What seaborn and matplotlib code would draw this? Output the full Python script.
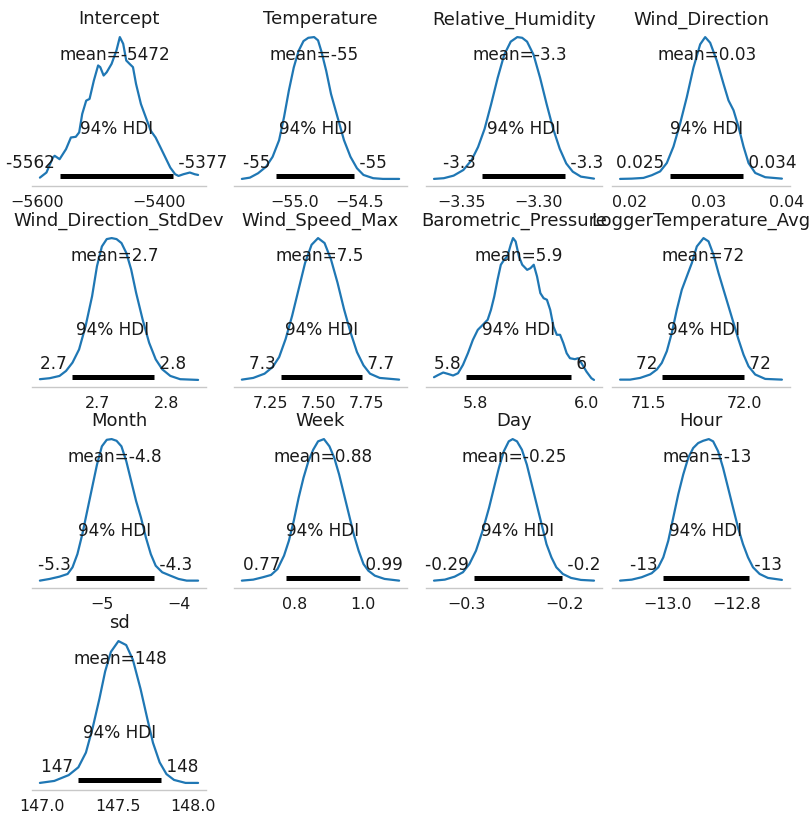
import numpy as np
import pandas as pd
import matplotlib
matplotlib.use("Agg")
import matplotlib.pyplot as plt
import seaborn as sns

# ---- posterior density curves (x, density) ----
intercept_x = [-5595.2, -5584.5, -5573.9, -5571.0, -5563.0, -5552.5, -5544.5, -5536.5, -5531.0,
               -5526.0, -5519.5, -5514.0, -5507.0, -5500.0, -5496.5, -5491.0, -5486.0, -5478.0,
               -5470.0, -5464.5, -5459.0, -5454.0, -5448.5, -5443.0, -5438.0, -5430.0, -5422.0,
               -5414.0, -5406.0, -5398.0, -5390.0, -5382.0, -5374.0, -5368.5, -5360.5, -5350.0,
               -5342.0, -5336.5]
intercept_density = [0.009, 0.045, 0.151, 0.163, 0.139, 0.210, 0.292, 0.297, 0.328, 0.458, 0.552,
                     0.564, 0.693, 0.800, 0.788, 0.729, 0.752, 0.811, 0.906, 1.000, 0.953, 0.835,
                     0.811, 0.788, 0.670, 0.528, 0.434, 0.340, 0.292, 0.222, 0.151, 0.080, 0.033,
                     0.021, 0.033, 0.045, 0.033, 0.028]

temperature_x = [-55.405, -55.343, -55.280, -55.218, -55.168, -55.118, -55.080, -55.043, -55.005,
                 -54.968, -54.930, -54.893, -54.848, -54.818, -54.793, -54.755, -54.718, -54.668,
                 -54.618, -54.568, -54.518, -54.468, -54.393, -54.318, -54.193]
temperature_density = [0.0, 0.009, 0.040, 0.086, 0.156, 0.273, 0.436, 0.622, 0.786, 0.902, 0.972,
                       0.995, 1.000, 0.977, 0.902, 0.762, 0.599, 0.436, 0.273, 0.156, 0.075, 0.028,
                       0.005, 0.0, 0.0]

humidity_x = [-3.36809, -3.36171, -3.35532, -3.34894, -3.34361, -3.33936, -3.33510, -3.33084,
              -3.32659, -3.32233, -3.31807, -3.31381, -3.31062, -3.30743, -3.30317, -3.29891,
              -3.29466, -3.29040, -3.28614, -3.28189, -3.27763, -3.27231, -3.26379]
humidity_density = [0.0, 0.005, 0.023, 0.063, 0.132, 0.225, 0.353, 0.527, 0.712, 0.875, 0.968, 1.000,
                    0.995, 0.968, 0.875, 0.712, 0.527, 0.353, 0.213, 0.109, 0.051, 0.016, 0.002]

wind_dir_x = [0.018723, 0.020213, 0.021702, 0.022766, 0.023830, 0.024681, 0.025532, 0.026383,
              0.027234, 0.028085, 0.028937, 0.029575, 0.030213, 0.031064, 0.031915, 0.032553,
              0.033192, 0.033830, 0.034468, 0.035106, 0.035958, 0.037235, 0.039363]
wind_dir_density = [0.0, 0.002, 0.007, 0.026, 0.053, 0.112, 0.228, 0.391, 0.577, 0.786, 0.949, 1.000,
                    0.960, 0.833, 0.670, 0.553, 0.484, 0.367, 0.228, 0.112, 0.042, 0.012, 0.002]

wind_dir_sd_x = [2.6157, 2.6300, 2.6443, 2.6538, 2.6633, 2.6729, 2.6824, 2.6919, 2.6990, 2.7062,
                 2.7133, 2.7205, 2.7276, 2.7348, 2.7419, 2.7490, 2.7562, 2.7657, 2.7752, 2.7848,
                 2.7943, 2.8062, 2.8205, 2.8467]
wind_dir_sd_density = [0.005, 0.012, 0.028, 0.063, 0.122, 0.215, 0.379, 0.590, 0.801, 0.941, 0.993,
                       1.000, 0.993, 0.965, 0.895, 0.778, 0.614, 0.426, 0.262, 0.145, 0.075, 0.028,
                       0.005, 0.0]

wind_speed_x = [7.1039, 7.1626, 7.2213, 7.2632, 7.2968, 7.3304, 7.3639, 7.3975, 7.4310, 7.4646,
                7.4981, 7.5317, 7.5652, 7.5988, 7.6323, 7.6659, 7.6994, 7.7330, 7.7665, 7.8168,
                7.9175]
wind_speed_density = [0.002, 0.014, 0.044, 0.091, 0.161, 0.289, 0.452, 0.639, 0.825, 0.953, 1.000,
                      0.965, 0.848, 0.685, 0.499, 0.336, 0.196, 0.103, 0.044, 0.014, 0.002]

pressure_x = [5.72606, 5.73375, 5.74262, 5.75150, 5.76037, 5.76924, 5.77811, 5.78699, 5.79586,
              5.80473, 5.81361, 5.82248, 5.82839, 5.83431, 5.84023, 5.84614, 5.85205, 5.85797,
              5.86389, 5.86803, 5.87276, 5.87867, 5.88459, 5.89347, 5.89938, 5.90529, 5.91121,
              5.91713, 5.92304, 5.92896, 5.93487, 5.94078, 5.94670, 5.95262, 5.95853, 5.96445,
              5.97036, 5.97924, 5.98515, 5.99107, 5.99995, 6.00882, 6.01354]
pressure_density = [0.019, 0.035, 0.052, 0.042, 0.031, 0.047, 0.106, 0.188, 0.282, 0.353, 0.388,
                    0.424, 0.494, 0.588, 0.706, 0.812, 0.847, 0.871, 0.953, 1.000, 0.976, 0.871,
                    0.812, 0.776, 0.788, 0.812, 0.729, 0.612, 0.576, 0.565, 0.494, 0.376, 0.318,
                    0.318, 0.259, 0.188, 0.153, 0.146, 0.153, 0.118, 0.059, 0.012, 0.0]

logger_temp_x = [71.3526, 71.4047, 71.4568, 71.5089, 71.5436, 71.5696, 71.5957, 71.6217, 71.6478,
                 71.6738, 71.6998, 71.7259, 71.7519, 71.7866, 71.8127, 71.8387, 71.8647, 71.8908,
                 71.9168, 71.9429, 71.9689, 71.9949, 72.0210, 72.0557, 72.1078, 72.1946]
logger_temp_density = [0.002, 0.002, 0.014, 0.038, 0.073, 0.120, 0.202, 0.331, 0.495, 0.636, 0.730,
                       0.824, 0.941, 1.000, 0.977, 0.883, 0.754, 0.636, 0.519, 0.401, 0.284, 0.178,
                       0.096, 0.038, 0.007, 0.002]

month_x = [-5.8084, -5.6807, -5.5530, -5.4466, -5.3828, -5.3189, -5.2550, -5.1912, -5.1273, -5.0635,
           -4.9996, -4.9358, -4.8719, -4.8080, -4.7442, -4.6803, -4.6165, -4.5526, -4.4888, -4.4249,
           -4.3610, -4.2972, -4.2120, -4.1056, -3.9991, -3.8927, -3.7437]
month_density = [0.002, 0.014, 0.030, 0.049, 0.096, 0.189, 0.329, 0.493, 0.657, 0.820, 0.949, 0.995,
                 1.000, 0.988, 0.949, 0.843, 0.703, 0.563, 0.446, 0.306, 0.189, 0.107, 0.061, 0.037,
                 0.014, 0.002, 0.002]

week_x = [0.6456, 0.6789, 0.7075, 0.7313, 0.7504, 0.7694, 0.7837, 0.7980, 0.8123, 0.8266, 0.8409,
          0.8551, 0.8694, 0.8866, 0.9028, 0.9171, 0.9313, 0.9456, 0.9599, 0.9742, 0.9885, 1.0028,
          1.0171, 1.0361, 1.0647, 1.1075]
week_density = [0.002, 0.009, 0.026, 0.042, 0.084, 0.178, 0.283, 0.423, 0.586, 0.727, 0.843, 0.925,
                0.984, 1.000, 0.949, 0.867, 0.750, 0.610, 0.470, 0.329, 0.213, 0.119, 0.072, 0.037,
                0.014, 0.002]

day_x = [-0.3327, -0.3217, -0.3117, -0.3033, -0.2967, -0.2900, -0.2833, -0.2767, -0.2717, -0.2667,
         -0.2617, -0.2567, -0.2527, -0.2483, -0.2433, -0.2383, -0.2333, -0.2283, -0.2233, -0.2183,
         -0.2133, -0.2083, -0.2017, -0.1933, -0.1833, -0.1700]
day_density = [0.002, 0.009, 0.030, 0.061, 0.119, 0.213, 0.353, 0.516, 0.657, 0.797, 0.914, 0.984,
               1.000, 0.984, 0.925, 0.820, 0.680, 0.540, 0.400, 0.259, 0.166, 0.096, 0.049, 0.021,
               0.007, 0.002]

hour_x = [-13.1383, -13.1044, -13.0755, -13.0465, -13.0272, -13.0127, -12.9982, -12.9837, -12.9692,
          -12.9547, -12.9402, -12.9257, -12.9112, -12.8967, -12.8803, -12.8677, -12.8532, -12.8388,
          -12.8243, -12.8098, -12.7953, -12.7808, -12.7663, -12.7518, -12.7325, -12.7083, -12.6677]
hour_density = [0.002, 0.009, 0.026, 0.054, 0.096, 0.166, 0.283, 0.446, 0.610, 0.750, 0.867, 0.937,
                0.972, 0.988, 1.000, 0.984, 0.914, 0.797, 0.657, 0.516, 0.376, 0.259, 0.166, 0.096,
                0.049, 0.021, 0.007]

sd_x = [146.987, 147.082, 147.177, 147.241, 147.291, 147.335, 147.380, 147.418, 147.456, 147.506,
        147.557, 147.601, 147.652, 147.696, 147.734, 147.778, 147.823, 147.873, 147.949, 148.032]
sd_density = [0.0, 0.014, 0.055, 0.110, 0.214, 0.386, 0.593, 0.786, 0.924, 1.000, 0.972, 0.869,
              0.662, 0.455, 0.283, 0.145, 0.062, 0.021, 0.0, 0.0]

# ---- per-parameter summaries ----
names = ["Intercept", "Temperature", "Relative_Humidity", "Wind_Direction",
         "Wind_Direction_StdDev", "Wind_Speed_Max", "Barometric_Pressure", "LoggerTemperature_Avg",
         "Month", "Week", "Day", "Hour", "sd"]
curve_x = [intercept_x, temperature_x, humidity_x, wind_dir_x, wind_dir_sd_x, wind_speed_x,
           pressure_x, logger_temp_x, month_x, week_x, day_x, hour_x, sd_x]
curve_density = [intercept_density, temperature_density, humidity_density, wind_dir_density,
                 wind_dir_sd_density, wind_speed_density, pressure_density, logger_temp_density,
                 month_density, week_density, day_density, hour_density, sd_density]
means = [-5472.0, -54.85, -3.312, 0.0298, 2.725, 7.508, 5.879, 71.787, -4.825, 0.883, -0.2513,
         -12.886, 147.52]
hdi_low = [-5562.0, -55.14, -3.337, 0.0251, 2.663, 7.305, 5.783, 71.573, -5.34, 0.774, -0.292,
           -13.013, 147.24]
hdi_high = [-5377.0, -54.54, -3.283, 0.0344, 2.782, 7.725, 5.972, 71.998, -4.318, 0.994, -0.203,
            -12.764, 147.79]
xticks = [[-5600, -5400], [-55.0, -54.5], [-3.35, -3.30], [0.02, 0.03, 0.04],
          [2.7, 2.8], [7.25, 7.50, 7.75], [5.8, 6.0], [71.5, 72.0],
          [-5, -4], [0.8, 1.0], [-0.3, -0.2], [-13.0, -12.8], [147.0, 147.5, 148.0]]
hdi_prob_label = "94% HDI"


def round_num(n):
    """Significant-figure rounding used for the annotations."""
    sig = 1 if n == 0 else max(int(np.log10(abs(n))) + 1, 2)
    return f"{n:.{sig}g}"


sns.set_style("white")
plt.rcParams["font.family"] = ["DejaVu Sans"]
plt.rcParams["text.color"] = "#1a1a1a"
plt.rcParams["xtick.color"] = "#1a1a1a"

W, H = 811, 814
fig = plt.figure(figsize=(W / 100, H / 100), dpi=100)

col_left = [32, 234, 426, 612]
col_width = [174, 173, 176, 178]
row_top = [30, 231, 432, 634]
row_height = 156

TEXT_SIZE = 12.2
TITLE_SIZE = 13
TICK_SIZE = 11.4

for i, name in enumerate(names):
    r, c = divmod(i, 4)
    ax = fig.add_axes([col_left[c] / W, 1 - (row_top[r] + row_height) / H,
                       col_width[c] / W, row_height / H])
    df = pd.DataFrame({"x": curve_x[i], "density": curve_density[i]})
    sns.lineplot(data=df, x="x", y="density", ax=ax, color="#1f77b4", lw=1.6)

    peak = df["density"].max()
    top = 1.05 * peak
    ax.set_ylim(-0.05 * peak, top)

    lo, hi = hdi_low[i], hdi_high[i]
    ax.plot([lo, hi], [0.02 * top, 0.02 * top], lw=3.6, color="k", solid_capstyle="butt")
    ax.text(means[i], 0.8 * top, f"mean={round_num(means[i])}", ha="center", fontsize=TEXT_SIZE)
    ax.text((lo + hi) / 2, 0.3 * top, hdi_prob_label, ha="center", fontsize=TEXT_SIZE)
    ax.text(lo, 0.07 * top, f"{round_num(lo)} ", ha="right", fontsize=TEXT_SIZE)
    ax.text(hi, 0.07 * top, f" {round_num(hi)}", ha="left", fontsize=TEXT_SIZE)

    ax.set_title(name, fontsize=TITLE_SIZE, pad=4)
    ax.set_xticks(xticks[i])
    ax.set_yticks([])
    ax.set_xlabel("")
    ax.set_ylabel("")
    ax.tick_params(axis="x", labelsize=TICK_SIZE, bottom=False, pad=3)
    for side in ("left", "right", "top"):
        ax.spines[side].set_visible(False)
    ax.spines["bottom"].set_color("#c8c8c8")
    ax.spines["bottom"].set_linewidth(1.0)

fig.savefig("out.png", dpi=100)
